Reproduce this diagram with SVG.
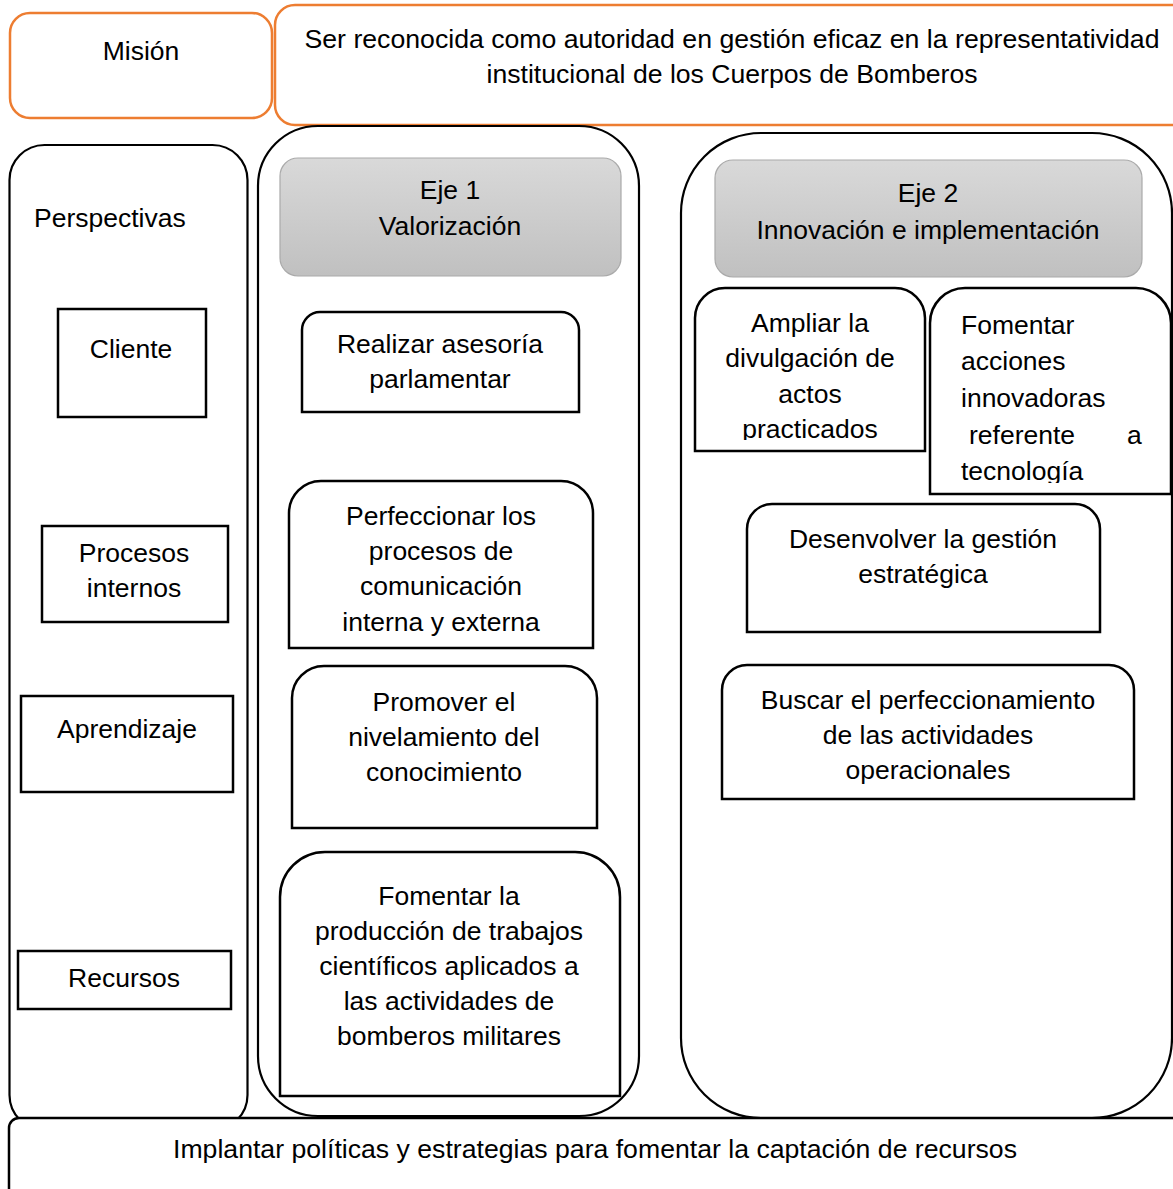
<svg xmlns="http://www.w3.org/2000/svg" width="1173" height="1189" viewBox="0 0 1173 1189">
  <style>
    text { font-family: "Liberation Sans", Arial, sans-serif; font-size: 26.5px; fill: #000; }
    .c { text-anchor: middle; }
    .orange { fill: #fff; stroke: #ED7D31; stroke-width: 2.5; }
    .col { fill: #fff; stroke: #000; stroke-width: 2.2; }
    .box { fill: #fff; stroke: #000; stroke-width: 2.5; }
    .head { fill: url(#headFill); stroke: #aaaaaa; stroke-width: 1.2; }
  </style>
  <defs>
    <linearGradient id="headFill" x1="0" y1="0" x2="0" y2="1">
      <stop offset="0" stop-color="#d9d9d9"/>
      <stop offset="1" stop-color="#c0c0c0"/>
    </linearGradient>
    <clipPath id="clipAmpliar"><rect x="695" y="288" width="230" height="152"/></clipPath>
    <clipPath id="clipFomentarAcc"><rect x="930" y="288" width="241" height="195"/></clipPath>
  </defs>

  <!-- mission row -->
  <g id="mision">
    <rect class="orange" x="10" y="13" width="262" height="105" rx="20"/>
    <text class="c" x="141" y="60">Misión</text>
  </g>
  <g id="mision-texto">
    <rect class="orange" x="275" y="5" width="920" height="120" rx="20"/>
    <text class="c" x="732" y="48" textLength="855" lengthAdjust="spacingAndGlyphs">Ser reconocida como autoridad en gestión eficaz en la representatividad</text>
    <text class="c" x="732" y="83" textLength="491" lengthAdjust="spacingAndGlyphs">institucional de los Cuerpos de Bomberos</text>
  </g>

  <!-- column frames -->
  <g id="perspectivas">
    <rect class="col" x="9.5" y="145" width="238" height="985" rx="35"/>
    <text x="34" y="227">Perspectivas</text>
  </g>
  <g id="eje1">
    <rect class="col" x="258" y="126" width="381" height="990" rx="60"/>
  </g>
  <g id="eje2">
    <rect class="col" x="681" y="133" width="491" height="985" rx="80"/>
  </g>

  <!-- perspective boxes -->
  <g id="cliente">
    <rect class="box" x="58" y="309" width="148" height="108"/>
    <text class="c" x="131" y="358">Cliente</text>
  </g>
  <g id="procesos">
    <rect class="box" x="42" y="526" width="186" height="96"/>
    <text class="c" x="134" y="562">Procesos</text>
    <text class="c" x="134" y="597">internos</text>
  </g>
  <g id="aprendizaje">
    <rect class="box" x="21" y="696" width="212" height="96"/>
    <text class="c" x="127" y="738">Aprendizaje</text>
  </g>
  <g id="recursos">
    <rect class="box" x="18" y="951" width="213" height="58"/>
    <text class="c" x="124" y="987">Recursos</text>
  </g>

  <!-- axis 1 -->
  <g id="eje1-titulo">
    <rect class="head" x="280" y="158" width="341" height="118" rx="18"/>
    <text class="c" x="450" y="199">Eje 1</text>
    <text class="c" x="450" y="235">Valorización</text>
  </g>
  <g id="asesoria">
    <path class="box" d="M302,412 V330 A18,18 0 0 1 320,312 H561 A18,18 0 0 1 579,330 V412 Z"/>
    <text class="c" x="440" y="353">Realizar asesoría</text>
    <text class="c" x="440" y="388">parlamentar</text>
  </g>
  <g id="comunicacion">
    <path class="box" d="M289,648 V513 A32,32 0 0 1 321,481 H561 A32,32 0 0 1 593,513 V648 Z"/>
    <text class="c" x="441" y="525">Perfeccionar los</text>
    <text class="c" x="441" y="560">procesos de</text>
    <text class="c" x="441" y="595">comunicación</text>
    <text class="c" x="441" y="631">interna y externa</text>
  </g>
  <g id="conocimiento">
    <path class="box" d="M292,828 V698 A32,32 0 0 1 324,666 H565 A32,32 0 0 1 597,698 V828 Z"/>
    <text class="c" x="444" y="711">Promover el</text>
    <text class="c" x="444" y="746">nivelamiento del</text>
    <text class="c" x="444" y="781">conocimiento</text>
  </g>
  <g id="trabajos">
    <path class="box" d="M280,1096 V897 A45,45 0 0 1 325,852 H575 A45,45 0 0 1 620,897 V1096 Z"/>
    <text class="c" x="449" y="905">Fomentar la</text>
    <text class="c" x="449" y="940">producción de trabajos</text>
    <text class="c" x="449" y="975">científicos aplicados a</text>
    <text class="c" x="449" y="1010">las actividades de</text>
    <text class="c" x="449" y="1045">bomberos militares</text>
  </g>

  <!-- axis 2 -->
  <g id="eje2-titulo">
    <rect class="head" x="715" y="160" width="427" height="117" rx="18"/>
    <text class="c" x="928" y="202">Eje 2</text>
    <text class="c" x="928" y="239">Innovación e implementación</text>
  </g>
  <g id="divulgacion">
    <path class="box" d="M695,451 V318 A30,30 0 0 1 725,288 H895 A30,30 0 0 1 925,318 V451 Z"/>
    <g clip-path="url(#clipAmpliar)">
      <text class="c" x="810" y="332">Ampliar la</text>
      <text class="c" x="810" y="367">divulgación de</text>
      <text class="c" x="810" y="403">actos</text>
      <text class="c" x="810" y="438">practicados</text>
    </g>
  </g>
  <g id="tecnologia">
    <path class="box" d="M930,494 V323 A35,35 0 0 1 965,288 H1136 A35,35 0 0 1 1171,323 V494 Z"/>
    <g clip-path="url(#clipFomentarAcc)">
      <text x="961" y="334">Fomentar</text>
      <text x="961" y="370">acciones</text>
      <text x="961" y="407">innovadoras</text>
      <text x="969" y="444">referente</text>
      <text x="1127" y="444">a</text>
      <text x="961" y="480">tecnología</text>
    </g>
  </g>
  <g id="gestion">
    <path class="box" d="M747,632 V529 A25,25 0 0 1 772,504 H1075 A25,25 0 0 1 1100,529 V632 Z"/>
    <text class="c" x="923" y="548">Desenvolver la gestión</text>
    <text class="c" x="923" y="583">estratégica</text>
  </g>
  <g id="operacionales">
    <path class="box" d="M722,799 V690 A25,25 0 0 1 747,665 H1109 A25,25 0 0 1 1134,690 V799 Z"/>
    <text class="c" x="928" y="709">Buscar el perfeccionamiento</text>
    <text class="c" x="928" y="744">de las actividades</text>
    <text class="c" x="928" y="779">operacionales</text>
  </g>

  <!-- resources strip across the bottom -->
  <g id="captacion">
    <rect class="box" x="9" y="1118" width="1190" height="100" rx="10"/>
    <text class="c" x="595" y="1158" textLength="844" lengthAdjust="spacingAndGlyphs">Implantar políticas y estrategias para fomentar la captación de recursos</text>
  </g>

  <g id="connectors"/>
</svg>
